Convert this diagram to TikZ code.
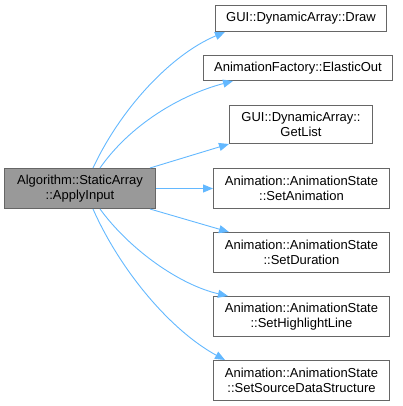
\documentclass[tikz,border=0pt]{standalone}
\usepackage{fontspec}
\setmainfont{Liberation Sans}
\usetikzlibrary{arrows.meta}
\definecolor{edgeblue}{HTML}{63B8FF}
\definecolor{boxline}{HTML}{666666}
\definecolor{srcfill}{HTML}{999999}

\begin{document}
\begin{tikzpicture}[x=1pt, y=-1pt,
    box/.style={draw=boxline, line width=1pt, fill=white, anchor=north west,
      inner sep=0pt, align=center, font=\fontsize{13}{15}\selectfont},
    edge/.style={color=edgeblue, line width=0.9pt, -{Triangle[length=10pt, width=8pt]}}]
    \useasboundingbox (0,0) rectangle (403,406);
    % Caller
    \node[box, fill=srcfill, minimum width=151pt, minimum height=40pt] (src) at (4,168) {Algorithm::StaticArray\\::ApplyInput};
    % Callees
    \node[box, minimum width=171pt, minimum height=26pt] (draw) at (215,5) {GUI::DynamicArray::Draw};
    \node[box, minimum width=189pt, minimum height=25pt] (elastic) at (203,55) {AnimationFactory::ElasticOut};
    \node[box, minimum width=143pt, minimum height=38pt] (getlist) at (229,105) {GUI::DynamicArray::\\GetList};
    \node[box, minimum width=176pt, minimum height=40pt] (setanim) at (213,168) {Animation::AnimationState\\::SetAnimation};
    \node[box, minimum width=176pt, minimum height=40pt] (setdur) at (213,232) {Animation::AnimationState\\::SetDuration};
    \node[box, minimum width=176pt, minimum height=40pt] (sethl) at (213,296) {Animation::AnimationState\\::SetHighlightLine};
    \node[box, minimum width=176pt, minimum height=40pt] (setsrc) at (213,360) {Animation::AnimationState\\::SetSourceDataStructure};
    % Calls
    \draw[edge] ([xshift=89pt]src.north west) .. controls (120,110) and (170,55) .. ([xshift=10pt]draw.south west);
    \draw[edge] ([xshift=96pt]src.north west) .. controls (130,125) and (180,95) .. ([xshift=30pt]elastic.south west);
    \draw[edge] ([xshift=146pt]src.north west) -- (getlist.south west);
    \draw[edge] (src.east) -- (setanim.west);
    \draw[edge] ([xshift=146pt]src.south west) -- ([xshift=16pt]setdur.north west);
    \draw[edge] ([xshift=96pt]src.south west) .. controls (130,250) and (180,285) .. ([xshift=15pt]sethl.north west);
    \draw[edge] ([xshift=89pt]src.south west) .. controls (120,270) and (170,330) .. ([xshift=12pt]setsrc.north west);
\end{tikzpicture}
\end{document}
